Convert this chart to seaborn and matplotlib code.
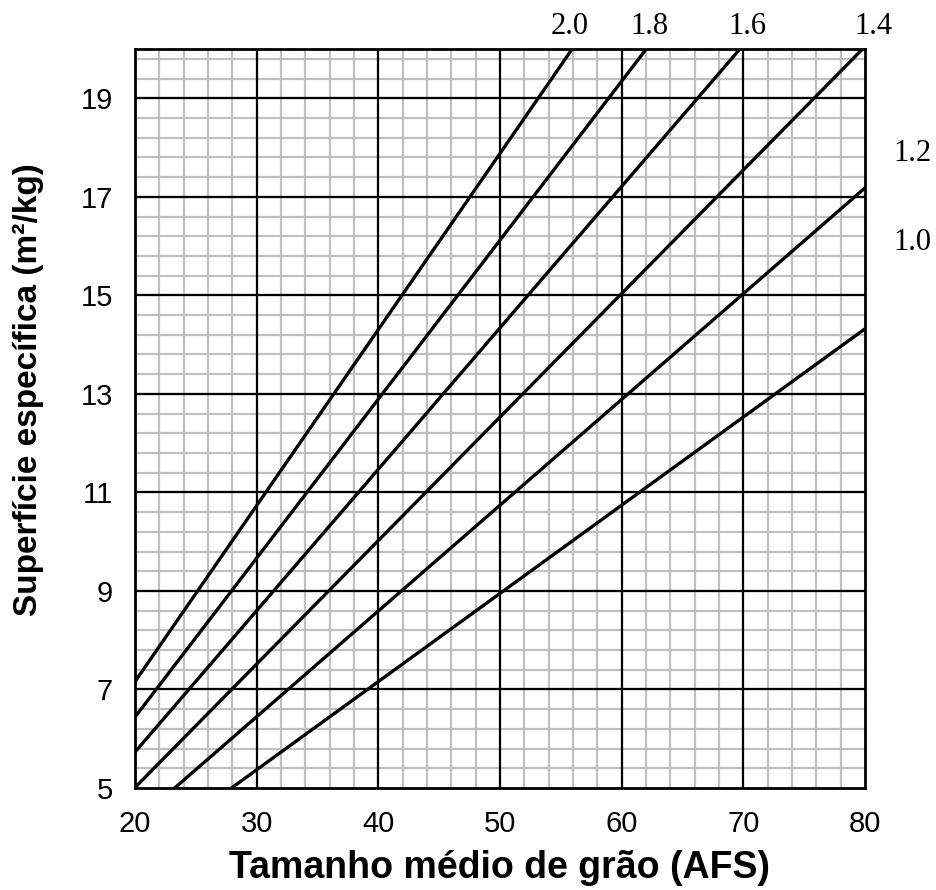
import numpy as np
import pandas as pd
import matplotlib
matplotlib.use("Agg")
import matplotlib.pyplot as plt
import seaborn as sns

# Data (values at x=20 and x=80 for each line)
series_labels = ["1.0", "1.2", "1.4", "1.6", "1.8", "2.0"]
x_points = [20, 80]
y_at_20 = [3.58, 4.30, 5.01, 5.73, 6.44, 7.16]
y_at_80 = [14.32, 17.18, 20.05, 22.95, 25.8, 28.6]
x_ticks = [20, 30, 40, 50, 60, 70, 80]
y_ticks = [5, 7, 9, 11, 13, 15, 17, 19]

rows = []
for lab, y0, y1 in zip(series_labels, y_at_20, y_at_80):
    rows.append({"x": x_points[0], "y": y0, "k": lab})
    rows.append({"x": x_points[1], "y": y1, "k": lab})
df = pd.DataFrame(rows)

sns.set_style("white")
plt.rcParams["font.family"] = ["Liberation Sans", "DejaVu Sans"]
plt.rcParams["text.color"] = "black"
plt.rcParams["axes.labelcolor"] = "black"
plt.rcParams["xtick.color"] = "black"
plt.rcParams["ytick.color"] = "black"

fig = plt.figure(figsize=(9.37, 8.9), dpi=100)
ax = fig.add_axes([135/937, 1-788/890, 730/937, 739/890])

# grid: minor grey lines first, then major black lines on top
for xv in np.arange(22, 80, 2):
    if xv % 10 != 0:
        ax.axvline(xv, color="#c0c0c0", lw=1.6, zorder=0.5)
for yv in np.arange(5.4, 20.0, 0.4):
    ax.axhline(yv, color="#c0c0c0", lw=1.6, zorder=0.5)
for xv in x_ticks[1:-1]:
    ax.axvline(xv, color="black", lw=1.6, zorder=1)
for yv in y_ticks[1:]:
    ax.axhline(yv, color="black", lw=1.6, zorder=1)

sns.lineplot(data=df, x="x", y="y", hue="k", palette=["black"]*6,
             legend=False, lw=2.4, ax=ax, zorder=3)

ax.set_xlim(20, 80)
ax.set_ylim(5, 20)
ax.set_xticks(x_ticks)
ax.set_yticks(y_ticks)
ax.tick_params(which="major", direction="out", length=7, width=1.6,
               color="black", labelsize=21, pad=9)
for s in ax.spines.values():
    s.set_visible(True)
    s.set_color("black")
    s.set_linewidth(2)

ax.set_xlabel("Tamanho médio de grão (AFS)", fontsize=27, fontweight="bold")
ax.set_ylabel("Superfície específica (m²/kg)", fontsize=24, fontweight="bold")
ax.xaxis.set_label_coords(0.5, (788 - 868) / 739, transform=ax.transAxes)
ax.yaxis.set_label_coords((28 - 135) / 730, (788 - 390) / 739, transform=ax.transAxes)
ax.xaxis.label.set_va("center")
ax.yaxis.label.set_va("center")

serif = ["Liberation Serif", "DejaVu Serif"]
lab_pos = {"2.0": (55.75, 20.45), "1.8": (62.3, 20.45), "1.6": (70.3, 20.45),
           "1.4": (80.7, 20.45), "1.2": (83.9, 17.88), "1.0": (83.9, 16.08)}
for lab in series_labels:
    px, py = lab_pos[lab]
    ax.text(px, py, lab, fontsize=22, family=serif, ha="center", va="center",
            clip_on=False)

fig.savefig("out.png", dpi=100)
